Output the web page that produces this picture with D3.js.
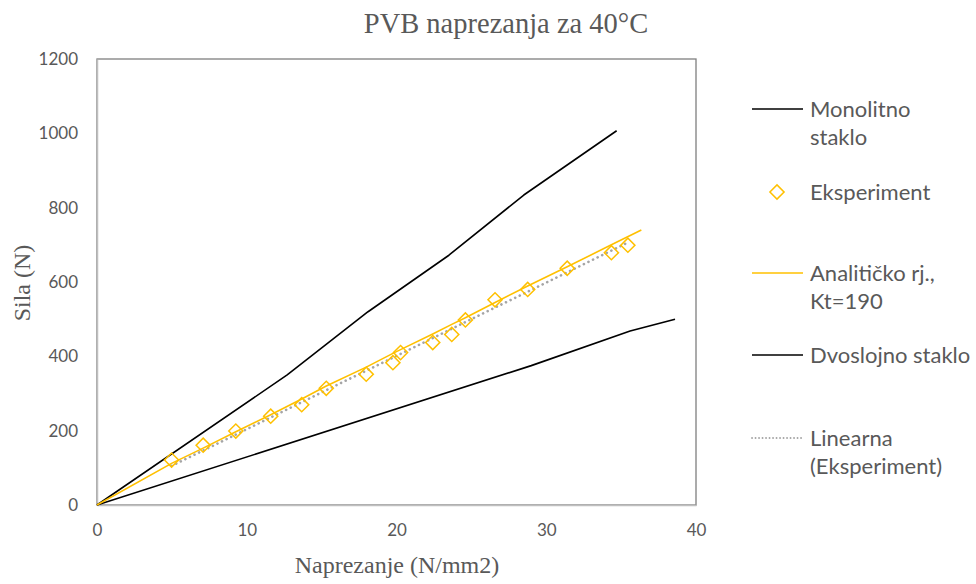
<!DOCTYPE html>
<html><head><meta charset="utf-8">
<script src="https://cdn.jsdelivr.net/npm/d3@7"></script>
<style>body{margin:0;background:#fff}svg{display:block}</style>
</head><body>
<svg id="c" width="976" height="584"></svg>
<script>
// Data
const xTicks = [0, 10, 20, 30, 40];
const yTicks = [0, 200, 400, 600, 800, 1000, 1200];
const monoX = [0, 12.7, 18.1, 23.5, 28.5, 34.7];
const monoY = [0, 350, 520, 672, 834, 1007];
const dvoX = [0, 29.0, 35.6, 38.6];
const dvoY = [0, 375, 468, 500];
const expX = [4.98, 7.09, 9.27, 11.6, 13.67, 15.31, 17.98, 19.76, 20.27, 22.42, 23.69, 24.6, 26.58, 28.76, 31.4, 34.35, 35.45];
const expY = [121, 161, 199, 239, 270, 314, 352, 383, 410, 437, 459, 498, 552, 580, 637, 679, 699];
const anaX = [0, 4.98, 7.09, 9.27, 11.6, 13.67, 15.31, 17.98, 19.76, 20.27, 22.42, 23.69, 24.6, 26.58, 28.76, 31.4, 34.35, 36.35];
const anaY = [0, 112, 153, 197, 243, 285, 320, 371, 408, 418, 460, 486, 504, 545, 589, 641, 700, 740];
const trendX = [4.98, 35.45];
const trendY = [105, 706];
const legendItems = [
  {type: "line", color: "#000000", lines: ["Monolitno", "staklo"]},
  {type: "marker", color: "#FFC000", lines: ["Eksperiment"]},
  {type: "line", color: "#FFC000", lines: ["Analitičko rj.,", "Kt=190"]},
  {type: "line", color: "#000000", lines: ["Dvoslojno staklo"]},
  {type: "dot", color: "#A5A5A5", lines: ["Linearna", "(Eksperiment)"]}
];
const legendY = [109, 192, 273, 355, 438];

const svg = d3.select("#c");
const L = 97, R = 696, T = 59, B = 505;
const x = d3.scaleLinear().domain([0, 40]).range([L, R]);
const y = d3.scaleLinear().domain([0, 1200]).range([B, T]);
const txt = "#595959";
const tickFont = "Lato, 'Noto Sans', sans-serif";
const serif = "'Liberation Serif', 'DejaVu Serif', serif";

// plot border
svg.append("rect").attr("x", L).attr("y", T).attr("width", R - L).attr("height", B - T)
  .attr("fill", "none").attr("stroke", "#7f7f7f").attr("stroke-width", 1.3);

// axes
const xAxis = d3.axisBottom(x).tickValues(xTicks).tickSize(0).tickPadding(19).tickFormat(d3.format("d"));
const gx = svg.append("g").attr("transform", `translate(0,${B})`).call(xAxis);
const yAxis = d3.axisLeft(y).tickValues(yTicks).tickSize(0).tickPadding(19).tickFormat(d3.format("d"));
const gy = svg.append("g").attr("transform", `translate(${L},0)`).call(yAxis);
[gx, gy].forEach(g => {
  g.select(".domain").attr("stroke", "#bfbfbf").attr("stroke-width", 1.5);
  g.selectAll("text").attr("fill", txt).style("font-family", tickFont).style("font-size", "17px");
});

// series
const line = d3.line().x(d => x(d[0])).y(d => y(d[1]));
svg.append("path").datum(monoX.map((v, i) => [v, monoY[i]])).attr("d", line)
  .attr("fill", "none").attr("stroke", "#000").attr("stroke-width", 1.6).attr("stroke-linejoin", "round");
svg.append("path").datum(dvoX.map((v, i) => [v, dvoY[i]])).attr("d", line)
  .attr("fill", "none").attr("stroke", "#000").attr("stroke-width", 1.6).attr("stroke-linejoin", "round");
svg.append("path").datum(anaX.map((v, i) => [v, anaY[i]])).attr("d", line)
  .attr("fill", "none").attr("stroke", "#FFC000").attr("stroke-width", 1.6).attr("stroke-linejoin", "round");
svg.append("path").datum(trendX.map((v, i) => [v, trendY[i]])).attr("d", line)
  .attr("fill", "none").attr("stroke", "#A5A5A5").attr("stroke-width", 2.6)
  .attr("stroke-dasharray", "0.1 5").attr("stroke-linecap", "round");

const diamond = d3.symbol().type(d3.symbolSquare).size(100);
svg.append("g").selectAll("path").data(expX.map((v, i) => [v, expY[i]])).join("path")
  .attr("d", diamond())
  .attr("transform", d => `translate(${x(d[0])},${y(d[1])}) rotate(45)`)
  .attr("fill", "none").attr("stroke", "#FFC000").attr("stroke-width", 1.5);

// title & axis titles
svg.append("text").attr("x", 506).attr("y", 33).attr("text-anchor", "middle")
  .attr("fill", txt).style("font-family", serif).style("font-size", "28.5px").text("PVB naprezanja za 40°C");
svg.append("text").attr("x", 397).attr("y", 573).attr("text-anchor", "middle")
  .attr("fill", txt).style("font-family", serif).style("font-size", "24px").text("Naprezanje (N/mm2)");
svg.append("text").attr("transform", "translate(30,283) rotate(-90)").attr("text-anchor", "middle")
  .attr("fill", txt).style("font-family", serif).style("font-size", "24px").text("Sila (N)");

// legend
const lg = svg.append("g");
legendItems.forEach((it, i) => {
  const cy = legendY[i];
  if (it.type === "line") {
    lg.append("line").attr("x1", 752).attr("x2", 803).attr("y1", cy).attr("y2", cy)
      .attr("stroke", it.color).attr("stroke-width", 1.6);
  } else if (it.type === "dot") {
    lg.append("line").attr("x1", 752).attr("x2", 803).attr("y1", cy).attr("y2", cy)
      .attr("stroke", it.color).attr("stroke-width", 1.8).attr("stroke-dasharray", "0.1 3.4").attr("stroke-linecap", "round");
  } else {
    lg.append("path").attr("d", diamond()).attr("transform", `translate(777,${cy}) rotate(45)`)
      .attr("fill", "none").attr("stroke", it.color).attr("stroke-width", 1.5);
  }
  it.lines.forEach((t, j) => {
    lg.append("text").attr("x", 810).attr("y", cy + j * 28).attr("dy", "0.35em")
      .attr("fill", txt).style("font-family", tickFont).style("font-size", "22px").text(t);
  });
});
</script>
</body></html>
